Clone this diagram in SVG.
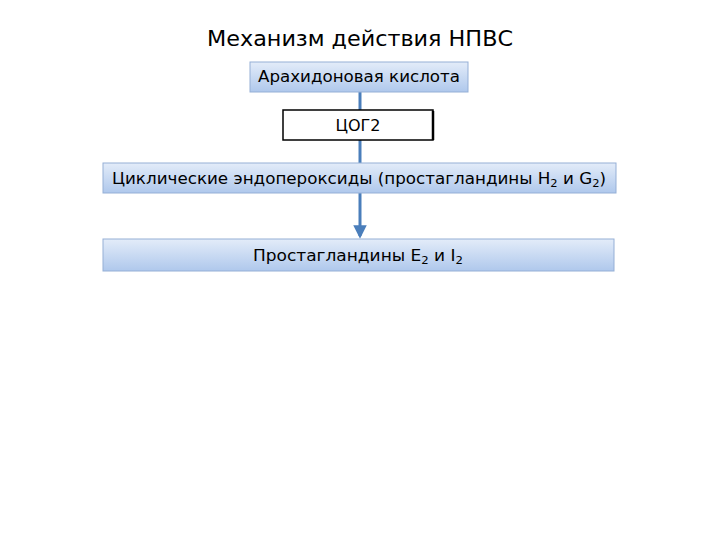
<svg xmlns="http://www.w3.org/2000/svg" width="720" height="540" viewBox="0 0 720 540">
<defs>
<linearGradient id="g" x1="0" y1="0" x2="0" y2="1">
<stop offset="0" stop-color="#e3ecf9"/>
<stop offset="1" stop-color="#afc8ec"/>
</linearGradient>
<marker id="ah" viewBox="0 0 10 10" refX="8" refY="5" markerWidth="4.5" markerHeight="4.5" orient="auto" markerUnits="strokeWidth">
<path d="M0,0 L10,5 L0,10 Z" fill="#4a7ebb"/>
</marker>
</defs>
<style>
.t{font-family:"DejaVu Sans","Liberation Sans",sans-serif;fill:#000;text-anchor:middle}
.box{fill:url(#g);stroke:#95afd6;stroke-width:1}
.ln{stroke:#4a7ebb;stroke-width:3;fill:none}
</style>
<rect width="720" height="540" fill="#fff"/>
<text class="t" x="360" y="46" font-size="22" textLength="306" lengthAdjust="spacingAndGlyphs">Механизм действия НПВС</text>
<g id="connectors">
<line class="ln" x1="360" y1="92" x2="360" y2="163"/>
<line class="ln" x1="360" y1="193" x2="360" y2="236" marker-end="url(#ah)"/>
</g>
<g id="n1">
<rect class="box" x="250" y="62" width="218" height="30"/>
<text class="t" x="359" y="82" font-size="16" textLength="202" lengthAdjust="spacingAndGlyphs">Арахидоновая кислота</text>
</g>
<g id="n2">
<rect x="283" y="110" width="150" height="30" fill="#fff" stroke="#000" stroke-width="1.5"/>
<line x1="433" y1="111" x2="433" y2="140" stroke="#000" stroke-width="2.5"/>
<text class="t" x="358" y="131" font-size="16">ЦОГ2</text>
</g>
<g id="n3">
<rect class="box" x="103" y="163" width="513" height="30"/>
<text class="t" x="359" y="184" font-size="16" textLength="494" lengthAdjust="spacingAndGlyphs">Циклические эндопероксиды (простагландины H<tspan font-size="11" dy="3">2</tspan><tspan dy="-3"> и G</tspan><tspan font-size="11" dy="3">2</tspan><tspan dy="-3">)</tspan></text>
</g>
<g id="n4">
<rect class="box" x="103" y="239" width="511" height="32"/>
<text class="t" x="358" y="261" font-size="16" textLength="210" lengthAdjust="spacingAndGlyphs">Простагландины E<tspan font-size="11" dy="3">2</tspan><tspan dy="-3"> и I</tspan><tspan font-size="11" dy="3">2</tspan></text>
</g>
</svg>
